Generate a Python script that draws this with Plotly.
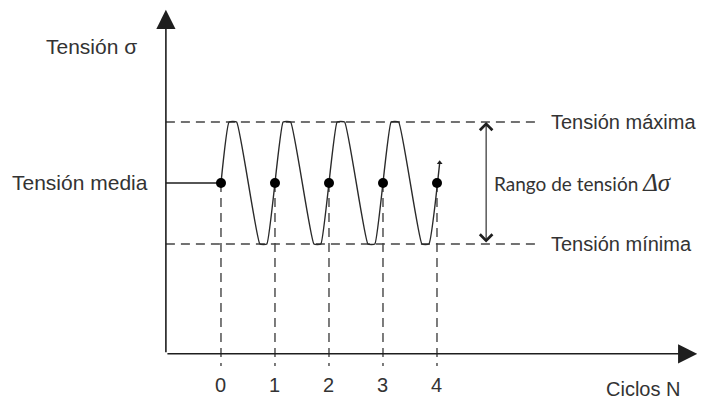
import plotly.graph_objects as go

# --- dati (unità: cicli N e tensione normalizzata, media = 0) ---
CYCLES = [0, 1, 2, 3, 4]
CYCLE_LABELS = ["0", "1", "2", "3", "4"]
S_MAX, S_MEAN, S_MIN = 1, 0, -1

# vertici della forma d'onda (N, sigma)
WAVE_N = [0, 0.15, 0.29, 0.72, 0.85, 1.15, 1.29, 1.72, 1.85, 2.15, 2.29,
          2.72, 2.85, 3.15, 3.29, 3.72, 3.85, 4.05]
WAVE_S = [0, 1, 1, -1, -1, 1, 1, -1, -1, 1, 1, -1, -1, 1, 1, -1, -1, 0.33]

# limiti del disegno (la pagina ha 8px di margine sul body)
X0, X1 = -3.944, 8.963
Y0, Y1 = -3.607, 2.869
AX_X = -1.02                # posizione asse verticale
AX_Y = -2.80                # posizione asse orizzontale
DASH_END = 5.91
TICK_BOTTOM = -3.0

INK = "#1e1e1e"
TXT = "#333333"
DASH = "9px,6px"

fig = go.Figure()

# linee tratteggiate max / min
for s in (S_MAX, S_MIN):
    fig.add_trace(go.Scatter(x=[AX_X, DASH_END], y=[s, s], mode="lines",
                             line=dict(color="#444", width=1.4, dash=DASH),
                             hoverinfo="skip"))

# verticali tratteggiate dai punti all'asse
for n in CYCLES:
    fig.add_trace(go.Scatter(x=[n, n], y=[S_MEAN, TICK_BOTTOM], mode="lines",
                             line=dict(color="#444", width=1.4, dash=DASH),
                             hoverinfo="skip"))

# tensione media (tratto pieno fino al primo punto)
fig.add_trace(go.Scatter(x=[AX_X, CYCLES[0]], y=[S_MEAN, S_MEAN], mode="lines",
                         line=dict(color=INK, width=1.4), hoverinfo="skip"))

# onda
fig.add_trace(go.Scatter(x=WAVE_N, y=WAVE_S, mode="lines",
                         line=dict(color="#2a2a2a", width=1.4, shape="spline",
                                   smoothing=0.35),
                         hoverinfo="skip"))
fig.add_trace(go.Scatter(x=[WAVE_N[-1]], y=[WAVE_S[-1]], mode="markers",
                         marker=dict(symbol="triangle-up", size=5, color=INK),
                         hoverinfo="skip"))

# punti sulla media
fig.add_trace(go.Scatter(x=CYCLES, y=[S_MEAN] * len(CYCLES), mode="markers",
                         marker=dict(color="black", size=10), hoverinfo="skip"))

annotations = []

# assi con freccia
annotations.append(dict(x=AX_X, y=2.84, ax=AX_X, ay=AX_Y, xref="x", yref="y",
                        axref="x", ayref="y", text="", showarrow=True,
                        arrowhead=2, arrowsize=2.4, arrowwidth=1.6, arrowcolor=INK))
annotations.append(dict(x=8.82, y=AX_Y, ax=AX_X, ay=AX_Y, xref="x", yref="y",
                        axref="x", ayref="y", text="", showarrow=True,
                        arrowhead=2, arrowsize=2.4, arrowwidth=1.6, arrowcolor=INK))

# freccia doppia del range
annotations.append(dict(x=4.91, y=S_MAX, ax=4.91, ay=S_MIN, xref="x", yref="y",
                        axref="x", ayref="y", text="", showarrow=True,
                        arrowhead=4, startarrowhead=4, arrowside="end+start",
                        arrowsize=2.2, arrowwidth=1.1, arrowcolor=INK))

F = "Liberation Sans, Arial, sans-serif"


def label(x, y, text, anchor="left", size=21, family=F):
    annotations.append(dict(x=x, y=y, xref="x", yref="y", text=text,
                            showarrow=False, xanchor=anchor, yanchor="middle",
                            font=dict(size=size, family=family, color=TXT)))


label(-1.52, 2.23, "Tensión σ", anchor="right")
label(-1.32, S_MEAN, "Tensión media", anchor="right")
label(6.08, S_MAX, "Tensión máxima", size=20)
label(6.08, S_MIN, "Tensión mínima", size=20)
label(5.02, S_MEAN,
      "Rango de tensión <span style='font-family:Liberation Serif;font-size:25px'><i>Δσ</i></span>",
      size=19, family="Lato, Open Sans, sans-serif")
for n, t in zip(CYCLES, CYCLE_LABELS):
    label(n, -3.31, t, anchor="center", size=20)
label(7.81, -3.38, "Ciclos N", anchor="center", size=20)

fig.update_layout(
    width=697, height=395,
    margin=dict(l=0, r=0, t=0, b=0),
    showlegend=False,
    plot_bgcolor="white", paper_bgcolor="white",
    xaxis=dict(range=[X0, X1], visible=False, fixedrange=True),
    yaxis=dict(range=[Y0, Y1], visible=False, fixedrange=True),
    annotations=annotations,
)

fig.write_html("out.html", config={"displayModeBar": False})
